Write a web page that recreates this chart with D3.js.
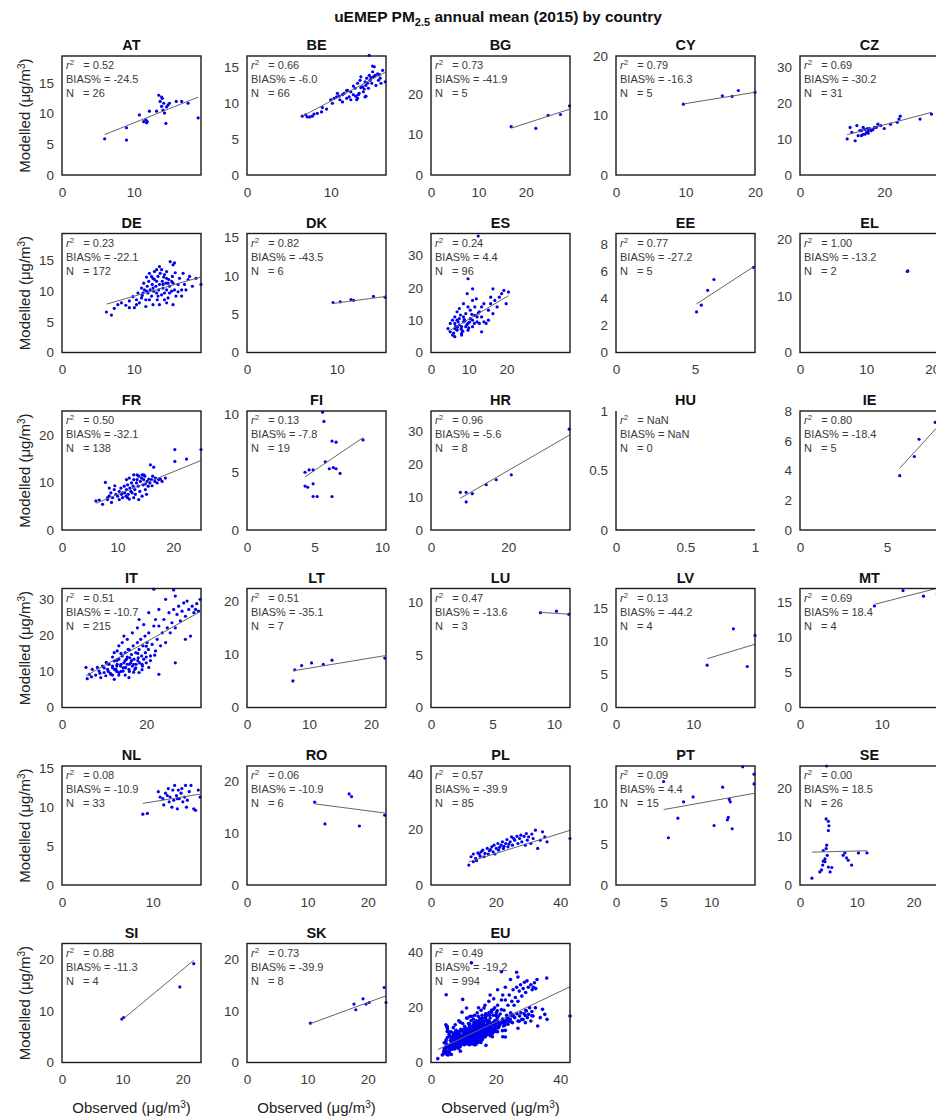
<!DOCTYPE html>
<html>
<head>
<meta charset="utf-8">
<script src="https://cdn.jsdelivr.net/npm/d3@7"></script>
<style>
  body { margin: 0; background: #fff; }
  svg { font-family: "Liberation Sans", Arial, Helvetica, sans-serif; }
</style>
</head>
<body>
<script>
//---->DATA<-----//
const countries = ['AT','BE','BG','CY','CZ','DE','DK','ES','EE','EL','FR','FI','HR','HU','IE',
                   'IT','LT','LU','LV','MT','NL','RO','PL','PT','SE','SI','SK','EU'];
const r2   = [0.52,0.66,0.73,0.79,0.69,0.23,0.82,0.24,0.77,1.00,0.50,0.13,0.96,NaN,0.80,
              0.51,0.51,0.47,0.13,0.69,0.08,0.06,0.57,0.09,0.00,0.88,0.73,0.49];
const bias = [-24.5,-6.0,-41.9,-16.3,-30.2,-22.1,-43.5,4.4,-27.2,-13.2,-32.1,-7.8,-5.6,NaN,-18.4,
              -10.7,-35.1,-13.6,-44.2,18.4,-10.9,-10.9,-39.9,4.4,18.5,-11.3,-39.9,-19.2];
const nObs = [26,66,5,5,31,172,6,96,5,2,138,19,8,0,5,215,7,3,4,4,33,6,85,15,26,4,8,994];
const axisMax = [19.4,16.6,29.3,20,33,19.4,15.5,36.8,8.8,21,25,10.3,36,1,8,
                 33,22.4,11.3,18,17,15.3,23,43,14.6,24.5,23,23,43];
const xTicks = [[0,10],[0,10],[0,10,20],[0,10,20],[0,20],[0,10],[0,10],[0,10,20],[0,5],[0,10,20],
                [0,10,20],[0,5,10],[0,20],[0,0.5,1],[0,5],[0,20],[0,10,20],[0,5,10],[0,10],[0,10],
                [0,10],[0,10,20],[0,20,40],[0,5,10],[0,10,20],[0,10,20],[0,10,20],[0,20,40]];
const yTicks = [[0,5,10,15],[0,5,10,15],[0,10,20],[0,10,20],[0,10,20,30],[0,5,10,15],[0,5,10,15],
                [0,10,20,30],[0,2,4,6,8],[0,10,20],[0,10,20],[0,5,10],[0,10,20,30],[0,0.5,1],
                [0,2,4,6,8],[0,10,20,30],[0,10,20],[0,5,10],[0,5,10,15],[0,5,10,15],[0,5,10,15],
                [0,10,20],[0,20,40],[0,5,10],[0,10,20],[0,10,20],[0,10,20],[0,20,40]];
const fitSlope = [0.468,0.62,0.38,0.19,0.31,0.336,0.155,0.69,0.76,1.0,0.476,0.79,0.676,0,1.28,
                  0.656,0.193,-0.07,0.354,0.3,0.19,-0.153,0.364,0.21,0.03,0.97,0.43,0.555];
const fitIntercept = [3.8,4.1,5.1,10.1,7.7,5.8,4.9,3.4,-0.28,-1.9,2.7,1.2,4.47,0,-3.2,
                      5.06,5.47,9.65,3.2,12.0,8.8,17.4,4.1,8.2,6.7,-1.4,3.0,3.5];

// [observed, modelled] per station
const AT = [[5.95,5.9],[9.0,7.7],[9.0,5.7],[10.8,9.8],[11.4,8.7],[11.7,9.0],[11.9,8.7],[12.2,10.4],
  [13.5,13.0],[13.7,12.0],[13.9,11.2],[14.0,12.5],[14.1,10.6],[14.2,11.7],[14.3,10.1],[14.5,8.4],
  [14.6,11.1],[14.8,11.4],[15.0,11.7],[15.95,12.0],[16.7,12.0],[17.6,11.7],[19.0,9.3],[13.9,12.7],
  [13.2,10.4],[11.8,8.5]];
const BE = [[6.6,8.2],[7.0,8.4],[7.5,8.1],[7.8,8.2],[8.4,8.6],[8.9,8.8],[9.5,9.2],[10.0,10.5],
  [10.4,10.7],[10.7,10.9],[11.1,10.5],[11.4,11.2],[11.6,11.4],[11.9,10.7],[12.2,10.9],[12.4,11.6],
  [12.7,11.2],[12.9,12.1],[13.1,10.5],[13.2,12.8],[13.4,11.4],[13.5,13.2],[13.6,13.7],[13.8,12.3],
  [13.9,11.6],[14.1,13.0],[14.2,12.5],[14.3,13.5],[14.5,12.1],[14.6,13.9],[14.7,13.2],[14.9,12.8],
  [15.0,14.4],[15.1,13.7],[15.2,15.1],[15.4,12.5],[15.6,14.1],[15.7,13.2],[15.9,13.5],[16.2,14.6],
  [16.5,13.0],[14.6,16.7],[15.0,15.2],[14.1,10.9],[13.2,10.7],[12.4,10.5],[11.9,11.8],[11.4,10.2],
  [10.8,11.4],[13.0,11.0],[13.6,12.2],[14.0,12.0],[14.4,12.8],[14.8,13.6],[15.3,13.9],[12.0,11.8],
  [12.7,12.4],[11.0,11.0],[10.2,10.0],[9.0,9.4],[7.2,8.1],[8.0,8.5],[15.8,14.0],[14.2,11.0],
  [13.3,11.2],[16.0,12.8]];
const BG = [[16.9,11.9],[22.1,11.5],[24.7,14.7],[27.3,14.9],[29.2,17.0]];
const CY = [[9.7,11.9],[15.3,13.3],[16.7,13.2],[17.6,14.2],[20.0,13.9]];
const CZ = [[11.2,10.0],[11.9,13.2],[13.1,9.5],[13.5,13.7],[13.8,10.9],[14.6,12.3],[15.0,13.2],
  [15.4,12.6],[15.8,11.8],[16.2,12.3],[16.5,12.9],[16.9,12.3],[17.3,12.6],[17.7,13.2],[18.5,14.1],
  [19.2,13.7],[20.0,12.9],[23.1,14.6],[23.5,15.5],[23.8,16.3],[28.5,15.5],[31.2,16.9],[15.4,11.3],
  [16.2,11.6],[14.6,10.9],[12.3,11.8],[18.1,13.2],[14.2,12.3],[16.0,12.9],[15.0,11.3],[21.5,14.1]];
const DE = [[6.2,6.6],[6.9,6.1],[7.3,7.2],[7.8,7.8],[8.3,8.1],[8.9,7.7],[9.4,8.4],[9.9,9.1],
  [10.1,7.3],[10.4,8.6],[10.6,9.7],[10.8,8.1],[11.1,10.5],[11.2,9.3],[11.4,11.3],[11.5,10.2],
  [11.7,8.6],[11.8,12.3],[11.9,10.8],[12.0,9.7],[12.1,11.6],[12.2,12.9],[12.3,10.2],[12.5,9.2],
  [12.6,11.1],[12.7,12.1],[12.8,10.0],[12.9,13.2],[13.1,10.8],[13.2,11.6],[13.3,8.6],[13.4,12.4],
  [13.5,10.2],[13.6,11.1],[13.7,12.9],[13.9,9.4],[14.0,11.6],[14.1,10.5],[14.2,12.3],[14.3,9.7],
  [14.5,11.3],[14.6,13.2],[14.6,10.2],[14.8,8.9],[14.9,11.9],[15.0,10.8],[15.1,14.8],[15.3,10.0],
  [15.4,12.4],[15.5,11.3],[15.7,10.2],[15.8,13.0],[15.9,9.2],[16.2,11.1],[16.4,12.1],[16.7,10.2],
  [16.9,12.9],[17.1,11.1],[17.3,10.2],[17.6,11.9],[17.8,12.4],[18.2,10.8],[18.7,12.1],[19.4,11.1],
  [15.5,14.3],[15.7,14.6],[13.2,13.5],[13.6,14.0],[12.7,7.8],[13.6,7.8],[11.7,7.5],[14.6,8.1],
  [15.5,7.8],[9.4,7.3],[10.4,7.8],[11.1,8.9],[12.2,8.6],[13.4,9.2],[14.3,8.6],[12.5,12.4],
  [12.9,11.9],[13.9,13.5],[14.3,12.7],[14.8,11.3],[15.3,11.6],[16.2,9.9],[16.7,9.2],[11.8,10.0],
  [11.3,9.7],[12.7,10.5],[13.2,9.7],[14.1,11.1],[14.6,12.1],[15.0,9.7]];
const DK = [[9.6,6.5],[10.4,6.6],[11.6,6.9],[11.9,6.8],[14.1,7.3],[15.4,7.2]];
const ES = [[5.1,6.4],[5.7,5.4],[6.3,7.4],[6.3,9.0],[6.9,10.0],[6.9,6.9],[7.5,8.5],[7.5,10.5],
  [8.1,8.0],[8.1,5.9],[8.6,9.5],[8.6,11.0],[9.2,8.0],[9.2,12.0],[9.8,9.0],[9.8,6.9],[10.4,10.5],
  [10.4,13.1],[11.0,10.0],[11.0,8.0],[11.6,11.5],[11.6,14.1],[12.2,9.5],[12.2,11.0],[12.8,12.6],
  [13.4,14.1],[13.4,6.4],[14.0,15.1],[14.6,9.0],[15.2,13.1],[15.8,17.1],[16.4,19.7],[16.9,16.1],
  [17.5,14.1],[18.1,17.1],[18.7,18.2],[19.3,19.2],[19.9,15.1],[20.5,18.7],[11.0,19.7],[9.8,22.8],
  [12.0,16.6],[8.6,15.1],[7.5,13.6],[6.3,11.0],[5.7,10.0],[5.1,9.0],[4.5,7.4],[6.3,4.9],[8.1,5.4],
  [12.8,9.0],[13.4,11.0],[14.0,9.5],[15.2,10.0],[15.8,15.1],[16.4,12.0],[9.8,14.1],[11.0,16.1],
  [9.6,18.2],[6.9,12.6],[6.5,8.2],[7.2,9.5],[8.0,7.2],[8.8,10.2],[9.5,8.6],[10.2,9.4],[10.8,11.8],
  [7.8,11.6],[9.0,9.8],[11.5,9.0],[6.0,6.0],[8.4,6.6],[10.0,7.6],[12.5,12.2],[7.0,7.8],[12.5,36.0]];
const EE = [[5.1,3.0],[5.4,3.5],[5.8,4.6],[6.2,5.4],[8.7,6.3]];
const EL = [[16.2,14.3],[16.3,14.4]];
const FR = [[6.1,6.1],[6.7,6.3],[7.3,5.4],[7.8,10.0],[8.2,6.8],[8.5,7.2],[8.8,7.8],[9.1,6.8],
  [9.4,8.5],[9.7,7.5],[10.0,7.1],[10.3,8.1],[10.6,8.8],[10.7,7.5],[10.9,6.8],[11.2,9.2],[11.3,7.8],
  [11.5,7.1],[11.6,8.5],[11.8,9.5],[11.9,7.5],[12.1,6.5],[12.2,8.8],[12.4,8.1],[12.5,9.9],[12.6,7.8],
  [12.8,9.2],[12.9,10.6],[13.1,8.5],[13.2,7.5],[13.4,9.9],[13.5,10.6],[13.7,9.2],[13.8,11.3],
  [14.0,8.1],[14.1,10.2],[14.3,10.9],[14.4,11.6],[14.6,9.5],[14.7,10.6],[14.9,11.3],[15.0,8.5],
  [15.2,7.5],[15.3,10.2],[15.5,9.2],[15.6,10.7],[15.8,9.9],[15.9,13.7],[16.1,10.6],[16.2,9.3],
  [16.3,11.3],[16.5,13.2],[16.7,10.2],[16.8,10.9],[17.1,9.9],[17.4,10.6],[17.7,10.7],[18.0,10.2],
  [18.6,10.9],[20.3,16.9],[20.3,14.4],[22.4,14.9],[25.0,16.9],[10.3,6.4],[9.5,9.3],[8.5,8.8],
  [8.2,6.4],[8.9,5.8],[10.9,7.8],[11.8,6.8],[12.9,6.8],[13.8,6.4],[14.4,7.1],[15.0,9.7],[14.7,11.6],
  [13.5,11.6],[12.9,11.6],[12.1,10.9],[11.6,10.6]];
const FI = [[5.6,10.2],[5.7,9.4],[6.3,7.7],[6.6,7.6],[8.6,7.8],[4.3,5.0],[4.6,5.2],[4.9,5.2],
  [5.8,5.9],[6.1,5.3],[6.4,5.4],[6.6,5.3],[6.9,4.9],[4.3,3.8],[4.5,3.7],[4.9,4.0],[4.9,2.9],
  [5.2,2.9],[6.3,2.9]];
const HR = [[7.6,11.4],[9.1,11.4],[9.1,8.5],[10.7,11.0],[14.3,13.7],[16.9,15.2],[20.8,16.7],[35.8,30.5]];
const HU = [];
const IE = [[5.74,3.65],[6.58,4.94],[6.85,6.1],[7.78,7.24],[7.95,7.6]];
const IT = [[5.7,11.1],[6.5,9.2],[7.2,10.6],[8.4,11.1],[9.2,8.3],[10.0,9.7],[10.8,10.6],[11.2,12.0],
  [11.6,9.2],[12.0,11.5],[12.4,12.9],[12.8,10.6],[13.1,12.0],[13.5,13.4],[13.9,11.5],[14.3,14.3],
  [14.5,10.1],[14.7,12.4],[15.0,15.2],[15.1,11.1],[15.3,13.4],[15.5,12.0],[15.7,16.1],[15.9,10.6],
  [16.1,13.8],[16.3,12.4],[16.5,14.7],[16.7,11.5],[16.9,17.1],[17.1,13.4],[17.3,10.6],[17.5,15.2],
  [17.6,12.0],[17.9,18.0],[18.1,13.8],[18.3,16.1],[18.4,12.4],[18.7,18.9],[18.9,14.3],[19.1,11.5],
  [19.2,17.1],[19.4,13.4],[19.7,19.8],[19.8,15.2],[20.0,12.4],[20.2,18.0],[20.5,16.1],[20.6,20.7],
  [21.0,14.3],[21.4,17.5],[21.8,22.6],[22.2,15.7],[22.6,18.9],[23.0,22.6],[23.4,17.1],[23.8,20.7],
  [24.2,24.4],[24.6,18.0],[25.0,22.1],[25.4,26.3],[25.7,20.7],[26.1,23.5],[26.5,27.2],[26.9,22.1],
  [27.3,25.8],[27.7,28.1],[28.1,24.0],[28.5,26.7],[28.9,29.0],[29.3,25.3],[29.7,29.5],[30.1,27.2],
  [30.5,19.8],[30.9,28.1],[31.3,26.3],[31.7,27.2],[32.0,28.8],[32.4,26.7],[32.8,30.0],[21.8,32.8],
  [26.5,32.6],[26.9,30.9],[18.3,9.7],[15.9,8.3],[20.6,11.1],[23.0,9.2],[13.5,9.7],[12.4,7.8],
  [10.4,8.8],[9.6,11.5],[8.8,10.1],[15.5,18.9],[16.7,20.7],[17.9,22.1],[19.4,23.0],[13.5,17.1],
  [14.7,19.8],[12.4,15.2],[20.6,26.3],[22.2,24.4],[29.3,18.9],[26.9,12.4],[18.3,24.4],[23.0,27.2],
  [24.6,30.0],[14.3,18.0],[13.1,15.7],[11,10],[12,11],[13,10],[14,12],[15,11],[16,12],[13,13],
  [12,9],[14,10],[15,13],[16,10],[17,12],[11,12],[10,11],[13,11.5],[14.5,11],[15.5,14],[12.5,10.5],
  [16.5,13],[17.5,11],[18,13],[19,12],[20,14],[11.5,9.5],[13.5,9],[10.5,12.5],[9,9.5],[8,9],
  [7,8.5],[6,8],[15,9],[17,9.8],[19,10.5],[21,13],[22,14.5],[12,14],[14,15],[16,16],[18,15],[20,17]];
const LT = [[7.4,5.0],[7.7,7.1],[8.8,7.9],[10.4,8.4],[12.3,8.1],[13.7,8.9],[22.2,9.3]];
const LU = [[8.9,9.0],[10.2,9.15],[11.2,8.85]];
const LV = [[11.8,6.4],[15.2,11.9],[17.0,6.2],[18.0,10.9]];
const MT = [[9.1,14.5],[12.6,16.7],[15.1,15.9],[16.8,16.2]];
const NL = [[8.9,9.1],[9.4,9.2],[10.6,12.0],[11.1,11.1],[11.4,11.8],[11.7,12.4],[11.8,10.7],
  [11.9,11.3],[12.1,10.0],[12.2,12.2],[12.3,10.9],[12.4,12.8],[12.6,11.5],[12.7,9.8],[12.8,12.2],
  [12.9,11.1],[13.1,11.8],[13.2,12.4],[13.3,10.7],[13.5,11.3],[13.6,12.8],[13.7,10.0],[14.0,12.0],
  [14.2,12.8],[14.5,9.8],[14.7,9.6],[15.0,12.2],[15.2,11.3],[11.2,10.3],[10.8,11.3],[11.6,11.5],
  [12.7,11.1],[13.8,10.9]];
const RO = [[11.2,16.0],[12.9,11.8],[16.9,17.6],[17.3,17.1],[18.6,11.4],[22.8,13.5]];
const PL = [[11.7,7.2],[12.4,10.2],[13.1,11.2],[13.8,9.6],[14.5,11.6],[15.2,10.4],[16.0,12.6],
  [16.7,11.4],[17.4,13.2],[18.1,12.4],[18.8,13.8],[19.2,12.0],[19.5,14.4],[20.2,13.2],[20.7,15.0],
  [20.9,12.6],[21.7,14.4],[22.1,15.6],[22.4,13.2],[23.1,15.0],[23.5,16.4],[23.8,13.8],[24.5,15.6],
  [24.9,17.4],[25.2,14.4],[25.9,16.2],[26.6,17.6],[26.9,15.0],[27.4,16.8],[28.1,15.6],[28.8,17.6],
  [29.2,14.4],[29.8,16.2],[30.2,17.4],[30.9,15.0],[31.6,16.8],[32.3,19.8],[33.0,13.2],[33.8,16.2],
  [35.2,17.4],[43.0,16.8],[13.1,8.4],[14.1,8.8],[14.9,11.2],[16.4,10.2],[17.7,11.2],[19.8,11.2],
  [21.2,13.6],[22.6,14.0],[24.1,14.8],[25.5,16.9],[27.8,18.0],[29.5,18.6],[31.2,18.4],[34.5,19.2],
  [35.9,15.6],[15.5,12.0],[18.4,12.8]];
const PT = [[5.0,12.7],[5.5,5.8],[6.5,8.2],[7.1,10.2],[8.1,10.8],[10.3,7.3],[11.2,12.0],[11.7,8.0],
  [11.8,8.3],[11.9,10.5],[12.0,10.2],[12.2,6.9],[13.3,14.5],[14.5,12.4],[14.5,13.6]];
const SE = [[2.1,1.4],[3.5,2.7],[4.0,4.1],[4.1,4.9],[4.4,5.4],[4.6,7.5],[4.7,8.2],[4.8,6.1],[5.0,3.7],
  [5.3,2.7],[5.6,3.6],[4.6,13.6],[5.0,13.1],[5.1,12.2],[5.0,11.2],[4.7,24.5],[7.6,6.1],[7.9,6.6],
  [8.2,5.6],[8.5,5.1],[9.1,4.1],[10.3,6.6],[11.8,6.6],[4.4,4.8],[4.1,7.1],[3.8,3.1]];
const SI = [[9.9,8.4],[10.2,8.7],[19.5,14.6],[21.8,19.1]];
const SK = [[10.5,7.6],[17.7,11.3],[18.0,10.2],[19.2,12.3],[19.7,11.3],[20.2,11.6],[22.7,14.5],[23.0,11.6]];
// EU = every station of the countries above
const EU = [].concat(AT,BE,BG,CY,CZ,DE,DK,ES,EE,EL,FR,FI,HR,HU,IE,IT,LT,LU,LV,MT,NL,RO,PL,PT,SE,SI,SK);

const stations = {AT,BE,BG,CY,CZ,DE,DK,ES,EE,EL,FR,FI,HR,HU,IE,IT,LT,LU,LV,MT,NL,RO,PL,PT,SE,SI,SK,EU};

//---->LAYOUT<-----//
const colX = [62, 247, 431, 616, 800];
const rowY0 = 56, rowStep = 177.5;
const w = 139, h = 119;

const svg = d3.select('body').append('svg')
    .attr('width', 936)
    .attr('height', 1120);

svg.append('rect').attr('width', 936).attr('height', 1120).attr('fill', '#fff');

// main title
const title = svg.append('text')
    .attr('x', 498)
    .attr('y', 22)
    .attr('text-anchor', 'middle')
    .attr('font-size', 15.5)
    .attr('font-weight', 'bold')
    .attr('fill', '#111');
title.append('tspan').text('uEMEP PM');
title.append('tspan').attr('dy', 4).attr('font-size', 11).text('2.5');
title.append('tspan').attr('dy', -4).text(' annual mean (2015) by country');

function unitLabel(sel, prefix) {
    sel.append('tspan').text(prefix + ' (\u03bcg/m');
    sel.append('tspan').attr('dy', -5).attr('font-size', 10).text('3');
    sel.append('tspan').attr('dy', 5).text(')');
}

countries.forEach(function(c, i) {
    const col = i % 5,
          row = Math.floor(i / 5);
    const gx = colX[col],
          gy = rowY0 + row * rowStep;
    const M = axisMax[i];
    const pts = stations[c];

    const x = d3.scaleLinear().domain([0, M]).range([0, w]);
    const y = d3.scaleLinear().domain([0, M]).range([h, 0]);

    const g = svg.append('g').attr('transform', `translate(${gx},${gy})`);

    // axes (labels only, MATLAB style)
    const fmt = d => d3.format('~g')(d);
    const xa = g.append('g')
        .attr('transform', `translate(0,${h})`)
        .call(d3.axisBottom(x).tickValues(xTicks[i]).tickSize(0).tickPadding(12).tickFormat(fmt));
    const ya = g.append('g')
        .call(d3.axisLeft(y).tickValues(yTicks[i]).tickSize(0).tickPadding(8).tickFormat(fmt));
    [xa, ya].forEach(a => {
        a.select('.domain').remove();
        a.selectAll('text')
            .attr('font-size', 13.5)
            .attr('font-family', '"Liberation Sans", Arial, sans-serif')
            .attr('fill', '#3a3a3a');
    });

    // points
    g.append('g')
        .selectAll('circle')
        .data(pts)
        .enter()
        .append('circle')
        .attr('cx', d => x(d[0]))
        .attr('cy', d => y(d[1]))
        .attr('r', c === 'EU' ? 1.8 : 1.6)
        .attr('fill', '#0000ee');

    // regression line over the observed range
    if (pts.length > 1) {
        const ext = d3.extent(pts, d => d[0]);
        g.append('line')
            .attr('x1', x(ext[0]))
            .attr('y1', y(fitSlope[i] * ext[0] + fitIntercept[i]))
            .attr('x2', x(ext[1]))
            .attr('y2', y(fitSlope[i] * ext[1] + fitIntercept[i]))
            .attr('stroke', '#666')
            .attr('stroke-width', 1);
    }

    // box
    if (pts.length > 0) {
        g.append('rect')
            .attr('width', w)
            .attr('height', h)
            .attr('fill', 'none')
            .attr('stroke', '#1a1a1a')
            .attr('stroke-width', 1.4);
    } else {
        g.append('path')
            .attr('d', `M0,0V${h}H${w}`)
            .attr('fill', 'none')
            .attr('stroke', '#1a1a1a')
            .attr('stroke-width', 1.4);
    }

    // panel title
    g.append('text')
        .attr('x', w / 2)
        .attr('y', -6)
        .attr('text-anchor', 'middle')
        .attr('font-size', 14.5)
        .attr('font-weight', 'bold')
        .attr('fill', '#111')
        .text(c);

    // statistics
    const stats = g.append('g')
        .attr('font-size', 11)
        .attr('fill', '#3a3a3a');
    const t1 = stats.append('text').attr('xml:space', 'preserve').attr('x', 4).attr('y', 13);
    t1.append('tspan').attr('font-style', 'italic').text('r');
    t1.append('tspan').attr('dy', -4).attr('font-size', 8).text('2');
    t1.append('tspan').attr('dy', 4).text('   = ' + (isNaN(r2[i]) ? 'NaN' : r2[i].toFixed(2)));
    stats.append('text').attr('xml:space', 'preserve').attr('x', 4).attr('y', 27)
        .text('BIAS% = ' + (isNaN(bias[i]) ? 'NaN' : bias[i].toFixed(1)));
    stats.append('text').attr('xml:space', 'preserve').attr('x', 4).attr('y', 41)
        .text('N   = ' + nObs[i]);

    // axis titles
    if (col === 0) {
        const yl = g.append('text')
            .attr('transform', `translate(-32,${h / 2}) rotate(-90)`)
            .attr('text-anchor', 'middle')
            .attr('font-size', 15)
            .attr('fill', '#222');
        unitLabel(yl, 'Modelled');
    }
    if (row === 5) {
        const xl = g.append('text')
            .attr('x', w / 2)
            .attr('y', h + 50)
            .attr('text-anchor', 'middle')
            .attr('font-size', 15)
            .attr('fill', '#222');
        unitLabel(xl, 'Observed');
    }
});
</script>
</body>
</html>
